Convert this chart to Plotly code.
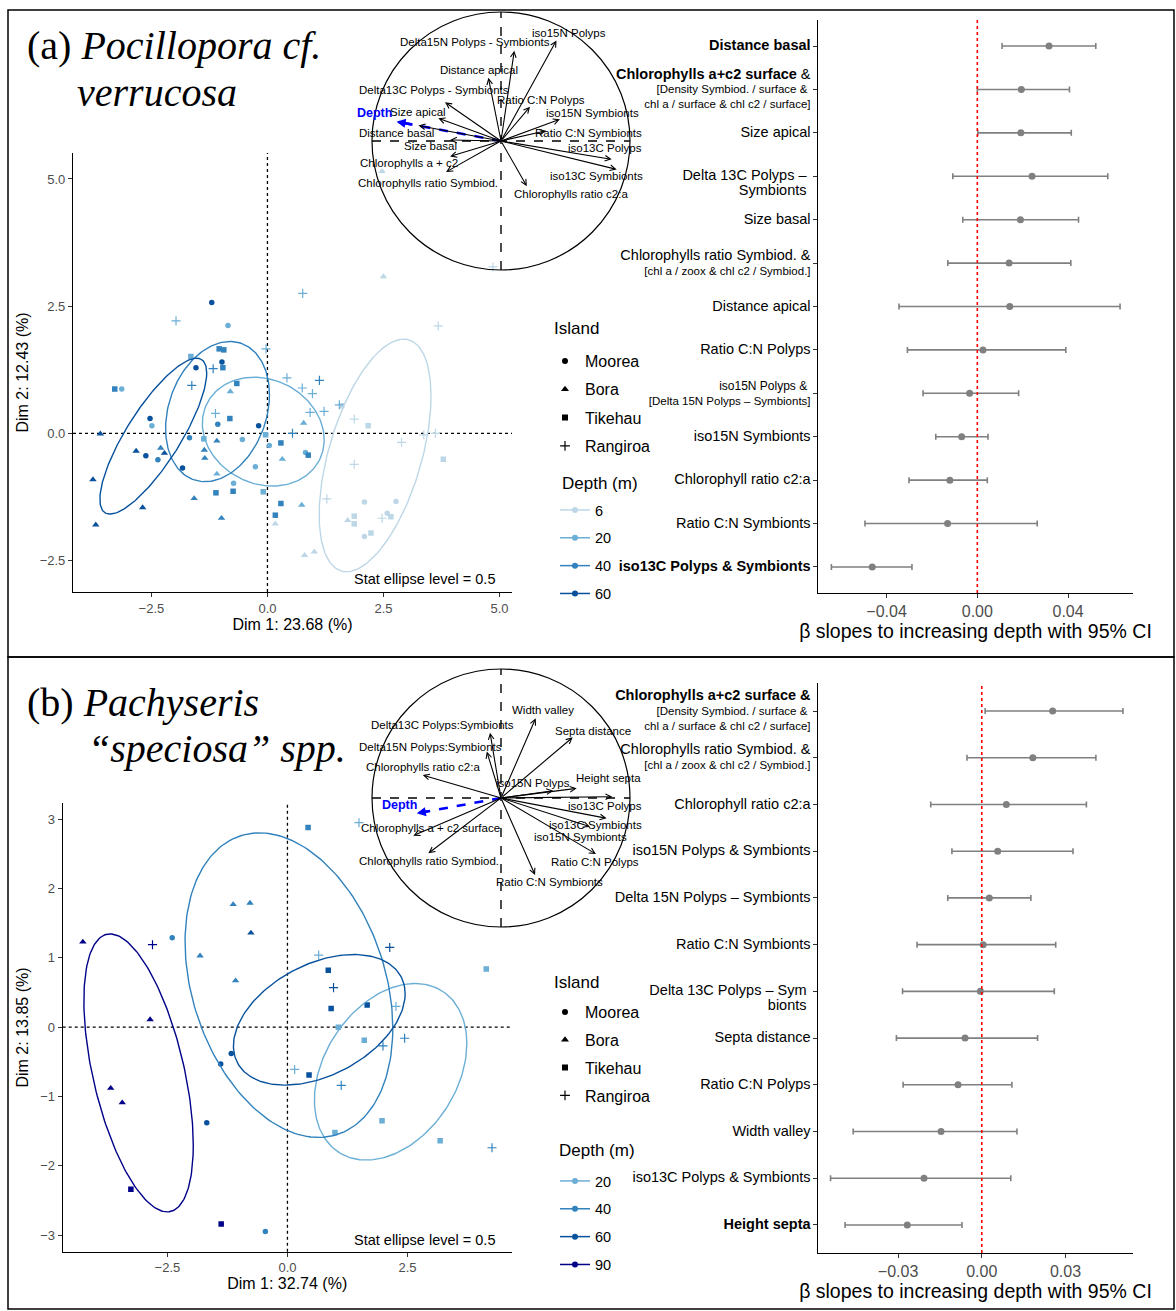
import numpy as np
import plotly.graph_objects as go

W, H = 1176, 1311
SANS = "Liberation Sans, Arial, sans-serif"
SERIF = "Liberation Serif, Times New Roman, serif"

# ------------------------------------------------------------------ DATA
islands = ["Moorea", "Bora", "Tikehau", "Rangiroa"]

# Panel (a) Pocillopora: PCA individuals (Dim1, Dim2, depth)
a_moorea_x = [-1.20, -0.85, -3.14, -1.54, -0.98, -2.53, -2.49, -1.07, -0.19, -2.62, -2.36, -1.68, -1.83, -0.54, 0.04, -0.26, -0.73, 0.82, 2.09, 2.77, 2.58, 2.09]
a_moorea_y = [2.57, 2.12, 0.87, 1.29, 1.40, 0.29, 0.15, 0.18, 0.15, -0.44, -0.52, -0.09, -0.68, -0.12, -0.24, -0.66, -0.98, -0.38, -1.35, -1.34, -1.57, -2.03]
a_moorea_d = [60, 20, 20, 60, 60, 60, 20, 40, 60, 60, 40, 40, 60, 20, 20, 20, 20, 20, 6, 6, 6, 6]
a_bora_x = [2.50, 2.47, -0.80, 0.78, -3.60, -2.83, -2.30, -2.22, -1.36, -1.35, -1.09, -1.09, 0.32, -3.76, -1.58, -2.69, -0.99, -3.70, 0.74, 0.17, 1.73, 0.80, 1.01]
a_bora_y = [3.08, 5.15, 0.82, 0.20, -0.01, -0.35, -0.29, -0.39, -0.33, -0.49, -0.15, -0.80, -0.51, -0.91, -1.28, -1.46, -1.67, -1.80, -1.41, -1.78, -1.71, -2.40, -2.33]
a_bora_d = [6, 6, 20, 20, 60, 60, 40, 60, 40, 40, 40, 20, 20, 60, 40, 60, 40, 60, 20, 6, 6, 6, 6]
a_tikehau_x = [-3.29, -1.65, -1.04, -0.94, -0.96, -0.66, -0.81, -1.37, -0.04, 0.29, 0.88, -1.11, -0.74, -0.09, 0.29, 0.17, 1.60, 2.17, 3.79, 1.87, 1.87, 2.66, 2.23]
a_tikehau_y = [0.87, 1.51, 1.66, 1.64, 1.29, 0.98, 0.29, -0.11, -0.03, -0.19, -0.43, -1.17, -1.14, -1.15, -1.38, -1.61, 0.54, 0.15, -0.51, -1.63, -1.78, -1.64, -1.96]
a_tikehau_d = [40, 20, 40, 40, 40, 40, 40, 20, 20, 40, 40, 40, 40, 20, 40, 40, 6, 6, 6, 6, 6, 6, 6]
a_rangiroa_x = [-1.97, 0.76, 3.68, 4.86, -0.03, -1.17, -1.63, 0.42, 1.12, 0.75, 0.97, -1.12, 0.92, 1.22, 0.54, 1.55, 1.87, 3.37, 3.62, 2.89, 1.87, 1.28, 2.47]
a_rangiroa_y = [2.21, 2.75, 2.11, 3.27, 1.66, 1.27, 0.94, 1.09, 1.04, 0.89, 0.78, 0.39, 0.41, 0.43, 0.00, 0.56, 0.28, -0.03, 0.00, -0.18, -0.61, -1.29, -1.67]
a_rangiroa_d = [20, 20, 6, 6, 20, 40, 40, 20, 40, 20, 20, 20, 20, 20, 40, 20, 6, 6, 6, 6, 6, 6, 6]

# stat ellipses (level 0.5) per depth: centre, half-extent x/y, correlation
a_depths = [6, 20, 40, 60]
a_ell_cx = [2.32, -0.09, -1.076, -2.46]
a_ell_cy = [-0.436, 0.033, 0.427, -0.056]
a_ell_hx = [1.205, 1.313, 1.119, 1.151]
a_ell_hy = [2.287, 1.07, 1.378, 1.532]
a_ell_r = [0.51, -0.15, 0.24, 0.81]

# Panel (a) variable loadings (correlation circle)
a_var_names = ["Delta15N Polyps - Symbionts", "iso15N Polyps", "Distance apical", "Delta13C Polyps - Symbionts",
               "Ratio C:N Polyps", "iso15N Symbionts", "Size apical", "Ratio C:N Symbionts", "iso13C Polyps",
               "iso13C Symbionts", "Chlorophylls ratio c2:a", "Distance basal", "Size basal",
               "Chlorophylls a + c2", "Chlorophylls ratio Symbiod."]
a_var_d1 = [0.103, 0.43, -0.098, -0.434, 0.225, 0.457, -0.486, 0.35, 0.858, 0.897, 0.20, -0.64, -0.395, -0.395, -0.426]
a_var_d2 = [0.70, 0.78, 0.49, 0.30, 0.266, 0.168, 0.176, 0.08, -0.142, -0.22, -0.35, 0.12, 0.008, -0.12, -0.24]
a_lab_d1 = [-0.20, 0.527, -0.171, -0.519, 0.31, 0.711, -0.643, 0.682, 0.806, 0.742, 0.54, -0.809, -0.55, -0.713, -0.566]
a_lab_d2 = [0.767, 0.837, 0.55, 0.395, 0.318, 0.215, 0.225, 0.06, -0.052, -0.271, -0.409, 0.06, -0.036, -0.173, -0.323]
a_depth_d1, a_depth_d2 = -0.81, 0.15
a_depth_lab = (-0.977, 0.219)

# Panel (a) slopes
a_terms = [
    "<b><span style='font-size:14.5px'>Distance basal</span></b>",
    "<b><span style='font-size:14.5px'>Chlorophylls a+c2 surface</span></b><span style='font-size:14.5px'> &</span><br>[Density Symbiod. / surface & <br>chl a / surface & chl c2 / surface]",
    "<span style='font-size:14.5px'>Size apical</span>",
    "\u00a0<br><span style='font-size:14.5px'>Delta 13C Polyps \u2013 </span><br><span style='font-size:14.5px'>Symbionts </span>",
    "<span style='font-size:14.5px'>Size basal</span>",
    "<span style='font-size:14.5px'>Chlorophylls ratio Symbiod. &</span><br>[chl a / zoox & chl c2 / Symbiod.]",
    "<span style='font-size:14.5px'>Distance apical</span>",
    "<span style='font-size:14.5px'>Ratio C:N Polyps</span>",
    "<span style='font-size:12px'>iso15N Polyps & </span><br>[Delta 15N Polyps \u2013 Symbionts]",
    "<span style='font-size:14.5px'>iso15N Symbionts</span>",
    "<span style='font-size:14.5px'>Chlorophyll ratio c2:a</span>",
    "<span style='font-size:14.5px'>Ratio C:N Symbionts</span>",
    "<b><span style='font-size:14.5px'>iso13C Polyps & Symbionts</span></b>",
]
a_beta = [0.0316, 0.0194, 0.0192, 0.0241, 0.0190, 0.0140, 0.0143, 0.0025, -0.0034, -0.0069, -0.0121, -0.0131, -0.0463]
a_lo = [0.0109, 0.0000, 0.0002, -0.0108, -0.0064, -0.0130, -0.0345, -0.0308, -0.0239, -0.0183, -0.0301, -0.0495, -0.0643]
a_hi = [0.0522, 0.0406, 0.0414, 0.0575, 0.0446, 0.0412, 0.0629, 0.0390, 0.0182, 0.0047, 0.0044, 0.0264, -0.0288]

# Panel (b) Pachyseris: PCA individuals
b_moorea_x = [-2.40, -1.17, -1.39, -1.68, -0.46]
b_moorea_y = [1.29, -0.38, -0.53, -1.38, -2.95]
b_moorea_d = [40, 60, 60, 60, 40]
b_bora_x = [-4.26, -2.86, -3.68, -3.44, -1.82, -1.13, -0.78, -0.76, -1.08]
b_bora_y = [1.23, 0.11, -0.88, -1.09, 1.03, 1.77, 1.79, 1.36, 0.67]
b_bora_d = [90, 90, 90, 90, 40, 40, 40, 60, 40]
b_tikehau_x = [0.43, 0.85, 0.91, 1.66, 0.45, 1.06, 1.60, 1.97, 0.99, 3.18, 4.14, -3.26, -1.38]
b_tikehau_y = [2.88, 0.82, 0.27, 0.32, -0.69, 0.00, -0.19, -1.35, -1.52, -1.64, 0.84, -2.34, -2.84]
b_tikehau_d = [40, 60, 60, 60, 60, 20, 20, 20, 20, 20, 20, 90, 90]
b_rangiroa_x = [-2.81, 1.49, 0.65, 2.13, 0.96, 2.26, 2.44, 1.99, 0.15, 1.12, 4.26]
b_rangiroa_y = [1.19, 2.95, 1.04, 1.15, 0.57, 0.30, -0.16, -0.27, -0.61, -0.84, -1.74]
b_rangiroa_d = [90, 20, 20, 60, 60, 20, 40, 40, 20, 40, 40]

b_depths = [20, 40, 60, 90]
b_ell_cx = [2.149, 0.031, 0.663, -3.10]
b_ell_cy = [-0.644, 0.606, 0.106, -0.66]
b_ell_hx = [1.587, 2.163, 1.788, 1.139]
b_ell_hy = [1.274, 2.197, 0.942, 2.005]
b_ell_r = [0.32, -0.284, 0.40, -0.52]

b_var_names = ["Width valley", "Septa distance", "Delta13C Polyps:Symbionts", "Delta15N Polyps:Symbionts",
               "Chlorophylls ratio c2:a", "iso15N Polyps", "Height septa", "iso13C Polyps", "iso13C Symbionts",
               "iso15N Symbionts", "Ratio C:N Polyps", "Ratio C:N Symbionts", "Chlorophylls a + c2 surface",
               "Chlorophylls ratio Symbiod."]
b_var_d1 = [0.269, 0.556, -0.085, -0.11, -0.607, 0.405, 0.587, 0.863, 0.819, 0.69, 0.736, 0.264, -0.68, -0.563]
b_var_d2 = [0.618, 0.47, 0.506, 0.36, 0.178, 0.057, 0.075, 0.01, -0.157, -0.222, -0.434, -0.597, -0.292, -0.429]
b_lab_d1 = [0.323, 0.716, -0.455, -0.55, -0.602, 0.246, 0.832, 0.809, 0.736, 0.62, 0.729, 0.374, -0.55, -0.556]
b_lab_d2 = [0.682, 0.522, 0.566, 0.393, 0.238, 0.114, 0.157, -0.062, -0.209, -0.30, -0.494, -0.649, -0.23, -0.486]
b_depth_d1, b_depth_d2 = -0.653, -0.119
b_depth_lab = (-0.783, -0.054)

b_terms = [
    "<b><span style='font-size:14.5px'>Chlorophylls a+c2 surface &</span></b><br>[Density Symbiod. / surface & <br>chl a / surface & chl c2 / surface]",
    "<span style='font-size:14.5px'>Chlorophylls ratio Symbiod. &</span><br>[chl a / zoox & chl c2 / Symbiod.]",
    "<span style='font-size:14.5px'>Chlorophyll ratio c2:a</span>",
    "<span style='font-size:14.5px'>iso15N Polyps & Symbionts</span>",
    "<span style='font-size:14.5px'>Delta 15N Polyps \u2013 Symbionts</span>",
    "<span style='font-size:14.5px'>Ratio C:N Symbionts</span>",
    "\u00a0<br><span style='font-size:14.5px'>Delta 13C Polyps \u2013 Sym </span><br><span style='font-size:14.5px'>bionts </span>",
    "<span style='font-size:14.5px'>Septa distance</span>",
    "<span style='font-size:14.5px'>Ratio C:N Polyps</span>",
    "<span style='font-size:14.5px'>Width valley</span>",
    "<span style='font-size:14.5px'>iso13C Polyps & Symbionts</span>",
    "<b><span style='font-size:14.5px'>Height septa</span></b>",
]
b_beta = [0.0254, 0.0183, 0.0088, 0.0057, 0.0027, 0.0005, -0.0005, -0.0060, -0.0085, -0.0146, -0.0207, -0.0267]
b_lo = [0.0012, -0.0053, -0.0183, -0.0107, -0.0122, -0.0232, -0.0284, -0.0306, -0.0282, -0.0461, -0.0542, -0.0490]
b_hi = [0.0506, 0.0409, 0.0375, 0.0327, 0.0176, 0.0265, 0.0260, 0.0200, 0.0108, 0.0126, 0.0104, -0.0071]

# ------------------------------------------------------------------ STYLE
depth_colors = {6: "#BDD7E7", 20: "#6BAED6", 40: "#3182BD", 60: "#08519C", 90: "#000088"}
symbols = {"Moorea": "circle", "Bora": "triangle-up", "Tikehau": "square", "Rangiroa": "cross-thin"}
msize = {"Moorea": 5.5, "Bora": 6.5, "Tikehau": 5.5, "Rangiroa": 6.5}


def pxx(p):
    return p / W


def pxy(p):
    return 1 - p / H


fig = go.Figure()
annotations = []
shapes = []


def add_individuals(xs, ys, ds, island, xa, ya):
    for d in sorted(set(ds)):
        sx = [x for x, dd in zip(xs, ds) if dd == d]
        sy = [y for y, dd in zip(ys, ds) if dd == d]
        c = depth_colors[d]
        fig.add_trace(go.Scatter(
            x=sx, y=sy, mode="markers", xaxis=xa, yaxis=ya, showlegend=False, hoverinfo="skip",
            marker=dict(symbol=symbols[island], size=msize[island], color=c,
                        line=dict(color=c, width=1.2 if island == "Rangiroa" else 0))))


def add_ellipses(depths, cx, cy, hx, hy, rr, xa, ya):
    t = np.linspace(0, 2 * np.pi, 200)
    for d, a, b, sx, sy, r in zip(depths, cx, cy, hx, hy, rr):
        phi = np.arccos(r)
        fig.add_trace(go.Scatter(
            x=a + sx * np.cos(t), y=b + sy * np.cos(t - phi), mode="lines", xaxis=xa, yaxis=ya,
            showlegend=False, hoverinfo="skip", line=dict(color=depth_colors[d], width=1.4)))


def add_circle(names, d1, d2, l1, l2, dep, deplab, xa, ya):
    shapes.append(dict(type="circle", xref=xa, yref=ya, x0=-1, x1=1, y0=-1, y1=1,
                       line=dict(color="black", width=1.2), layer="above"))
    shapes.append(dict(type="line", xref=xa, yref=ya, x0=-1, x1=1, y0=0, y1=0,
                       line=dict(color="black", width=1.4, dash="dash"), layer="above"))
    shapes.append(dict(type="line", xref=xa, yref=ya, x0=0, x1=0, y0=-1, y1=1,
                       line=dict(color="black", width=1.4, dash="dash"), layer="above"))
    for n, u, v, lu, lv in zip(names, d1, d2, l1, l2):
        annotations.append(dict(x=u, y=v, ax=0, ay=0, xref=xa, yref=ya, axref=xa, ayref=ya,
                                showarrow=True, arrowhead=5, arrowsize=1, arrowwidth=1.1,
                                arrowcolor="black", text="", standoff=0))
        annotations.append(dict(x=lu, y=lv, xref=xa, yref=ya, text=n, showarrow=False,
                                font=dict(family=SANS, size=11.5, color="black")))
    fig.add_trace(go.Scatter(x=[0, dep[0] * 0.93], y=[0, dep[1] * 0.93], mode="lines", xaxis=xa, yaxis=ya,
                             showlegend=False, hoverinfo="skip",
                             line=dict(color="blue", width=2.6, dash="dash")))
    annotations.append(dict(x=dep[0], y=dep[1], ax=dep[0] * 0.85, ay=dep[1] * 0.85, xref=xa, yref=ya,
                            axref=xa, ayref=ya, showarrow=True, arrowhead=2, arrowsize=0.7,
                            arrowwidth=2.6, arrowcolor="blue", text="", standoff=0))
    annotations.append(dict(x=deplab[0], y=deplab[1], xref=xa, yref=ya, text="<b>Depth</b>",
                            showarrow=False, font=dict(family=SANS, size=12.5, color="blue")))


def add_forest(terms, beta, lo, hi, xa, ya):
    rows = list(range(1, len(terms) + 1))
    fig.add_trace(go.Scatter(
        x=beta, y=rows, mode="markers", xaxis=xa, yaxis=ya, showlegend=False, hoverinfo="skip",
        marker=dict(color="#808080", size=7),
        error_x=dict(type="data", symmetric=False, array=[h - b for h, b in zip(hi, beta)],
                     arrayminus=[b - l for b, l in zip(beta, lo)], color="#808080", thickness=1.6, width=3)))
    shapes.append(dict(type="line", xref=xa, yref=ya + " domain", x0=0, x1=0, y0=0, y1=1,
                       line=dict(color="red", width=1.6, dash="dot"), layer="above"))


# ---- panel (a)
for isl, xs, ys, ds in zip(islands, [a_moorea_x, a_bora_x, a_tikehau_x, a_rangiroa_x],
                           [a_moorea_y, a_bora_y, a_tikehau_y, a_rangiroa_y],
                           [a_moorea_d, a_bora_d, a_tikehau_d, a_rangiroa_d]):
    add_individuals(xs, ys, ds, isl, "x", "y")
add_ellipses(a_depths, a_ell_cx, a_ell_cy, a_ell_hx, a_ell_hy, a_ell_r, "x", "y")
add_circle(a_var_names, a_var_d1, a_var_d2, a_lab_d1, a_lab_d2, (a_depth_d1, a_depth_d2), a_depth_lab, "x2", "y2")
add_forest(a_terms, a_beta, a_lo, a_hi, "x3", "y3")

# ---- panel (b)
for isl, xs, ys, ds in zip(islands, [b_moorea_x, b_bora_x, b_tikehau_x, b_rangiroa_x],
                           [b_moorea_y, b_bora_y, b_tikehau_y, b_rangiroa_y],
                           [b_moorea_d, b_bora_d, b_tikehau_d, b_rangiroa_d]):
    add_individuals(xs, ys, ds, isl, "x4", "y4")
add_ellipses(b_depths, b_ell_cx, b_ell_cy, b_ell_hx, b_ell_hy, b_ell_r, "x4", "y4")
add_circle(b_var_names, b_var_d1, b_var_d2, b_lab_d1, b_lab_d2, (b_depth_d1, b_depth_d2), b_depth_lab, "x5", "y5")
add_forest(b_terms, b_beta, b_lo, b_hi, "x6", "y6")

# zero reference lines in the PCA panels
for xa, ya in [("x", "y"), ("x4", "y4")]:
    shapes.append(dict(type="line", xref=xa, yref=ya + " domain", x0=0, x1=0, y0=0, y1=1,
                       line=dict(color="black", width=1.3, dash="dot"), layer="below"))
    shapes.append(dict(type="line", xref=xa + " domain", yref=ya, x0=0, x1=1, y0=0, y1=0,
                       line=dict(color="black", width=1.3, dash="dot"), layer="below"))

# ---- legends (entries via the library legend, titles as text)
legend_sets = [("legend", "legend2", a_depths), ("legend3", "legend4", b_depths)]
for leg_isl, leg_dep, depths in legend_sets:
    for isl in islands:
        fig.add_trace(go.Scatter(
            x=[None], y=[None], mode="markers", name=isl, legend=leg_isl, legendgroup=f"{leg_isl}{isl}",
            marker=dict(symbol=symbols[isl], size=msize[isl] + 0.5, color="black",
                        line=dict(color="black", width=1.2 if isl == "Rangiroa" else 0))))
    for d in depths:
        fig.add_trace(go.Scatter(
            x=[None], y=[None], mode="lines+markers", name=str(d), legend=leg_dep,
            legendgroup=f"{leg_dep}{d}", line=dict(color=depth_colors[d], width=1.5),
            marker=dict(symbol="circle", size=6, color=depth_colors[d])))


def legend_cfg(x, ytop, size, gap):
    return dict(x=pxx(x), y=pxy(ytop), xanchor="left", yanchor="top", bgcolor="rgba(0,0,0,0)",
                font=dict(family=SANS, size=size, color="black"), tracegroupgap=gap,
                itemsizing="trace", itemwidth=30)


# ---- axes
def scat_axes(xdom, ydom, xr, yr, xt, yt, xdt, ydt, xfmt, yfmt):
    ax = dict(domain=xdom, range=xr, showgrid=False, zeroline=False, showline=True, linecolor="black",
              linewidth=1.2, ticks="outside", ticklen=4, tickcolor="#333333", dtick=xdt, tick0=0,
              tickformat=xfmt, tickfont=dict(family=SANS, size=13, color="#4D4D4D"),
              title=dict(text=xt, font=dict(family=SANS, size=16, color="black"), standoff=1))
    ay = dict(domain=ydom, range=yr, showgrid=False, zeroline=False, showline=True, linecolor="black",
              linewidth=1.2, ticks="outside", ticklen=4, tickcolor="#333333", dtick=ydt, tick0=0,
              tickformat=yfmt, tickfont=dict(family=SANS, size=13, color="#4D4D4D"),
              title=dict(text=yt, font=dict(family=SANS, size=16, color="black"), standoff=7))
    return ax, ay


def circ_axes(cx, cy, r, xr, yr):
    ax = dict(domain=[pxx(cx + r * xr[0]), pxx(cx + r * xr[1])], range=xr, visible=False)
    ay = dict(domain=[pxy(cy - r * yr[0]), pxy(cy - r * yr[1])], range=yr, visible=False)
    return ax, ay


def forest_axes(xdom, ydom, xr, n, terms, tv):
    ax = dict(domain=xdom, range=xr, showgrid=False, zeroline=False, showline=True, linecolor="black",
              linewidth=1.3, ticks="outside", ticklen=4, tickcolor="#333333", tickvals=tv,
              tickformat=".2f", tickfont=dict(family=SANS, size=16, color="#4D4D4D"),
              title=dict(text="\u03b2 slopes to increasing depth with 95% CI",
                         font=dict(family=SANS, size=19.5, color="black"), standoff=4))
    ay = dict(domain=ydom, range=[n + 0.6, 0.4], showgrid=False, zeroline=False, showline=True,
              linecolor="black", linewidth=1.3, ticks="outside", ticklen=4, tickcolor="#333333",
              tickvals=list(range(1, n + 1)), ticktext=terms,
              tickfont=dict(family=SANS, size=11.5, color="black"))
    return ax, ay


x1, y1 = scat_axes([pxx(73), pxx(512)], [pxy(592), pxy(153)], [-4.19, 5.27], [-3.12, 5.51],
                   "Dim 1: 23.68 (%)", "Dim 2: 12.43 (%)", 2.5, 2.5, ".1f", ".1f")
x2, y2 = circ_axes(501, 141, 129, [-1.3, 1.3], [-1.2, 1.07])
x3, y3 = forest_axes([pxx(818), pxx(1133)], [pxy(593), pxy(20)], [-0.0702, 0.0686], len(a_terms), a_terms,
                     [-0.04, 0, 0.04])
x4, y4 = scat_axes([pxx(62.7), pxx(511.7)], [pxy(1251.7), pxy(803.3)], [-4.68, 4.67], [-3.24, 3.23],
                   "Dim 1: 32.74 (%)", "Dim 2: 13.85 (%)", 2.5, 1, ".1f", "d")
x5, y5 = circ_axes(501, 798, 129, [-1.3, 1.3], [-1.2, 1.2])
x6, y6 = forest_axes([pxx(818), pxx(1133)], [pxy(1253), pxy(683)], [-0.0587, 0.0542], len(b_terms), b_terms,
                     [-0.03, 0, 0.03])

x2["anchor"], y2["anchor"] = "y2", "x2"
x3["anchor"], y3["anchor"] = "y3", "x3"
x4["anchor"], y4["anchor"] = "y4", "x4"
x5["anchor"], y5["anchor"] = "y5", "x5"
x6["anchor"], y6["anchor"] = "y6", "x6"

# ---- titles / texts
def ptext(x, y, text, size, family=SANS, xanchor="left"):
    return dict(x=pxx(x), y=pxy(y), xref="paper", yref="paper", xanchor=xanchor, yanchor="middle",
                showarrow=False, text=text, font=dict(family=family, size=size, color="black"))


annotations += [
    ptext(25, 45, "(a) <i>Pocillopora cf.</i>", 40, SERIF),
    ptext(75, 92, "<i>verrucosa</i>", 40, SERIF),
    ptext(25, 702, "(b) <i>Pachyseris</i>", 40, SERIF),
    ptext(86, 748, "<i>\u201cspeciosa\u201d spp.</i>", 40, SERIF),
    ptext(497, 579, "Stat ellipse level = 0.5", 14.5, xanchor="right"),
    ptext(497, 1240, "Stat ellipse level = 0.5", 14.5, xanchor="right"),
    ptext(552, 329, "Island", 17),
    ptext(560, 483, "Depth (m)", 17),
    ptext(552, 982, "Island", 17),
    ptext(557, 1150, "Depth (m)", 17),
]

# panel borders
shapes += [
    dict(type="rect", xref="paper", yref="paper", x0=pxx(8), x1=pxx(1174), y0=pxy(657), y1=pxy(10),
         line=dict(color="black", width=1.5), layer="above"),
    dict(type="rect", xref="paper", yref="paper", x0=pxx(8), x1=pxx(1174), y0=pxy(1309), y1=pxy(657),
         line=dict(color="black", width=1.5), layer="above"),
]

fig.update_layout(
    width=W, height=H, margin=dict(l=0, r=0, t=0, b=0), paper_bgcolor="white", plot_bgcolor="rgba(0,0,0,0)",
    font=dict(family=SANS, color="black"),
    xaxis=x1, yaxis=y1, xaxis2=x2, yaxis2=y2, xaxis3=x3, yaxis3=y3,
    xaxis4=x4, yaxis4=y4, xaxis5=x5, yaxis5=y5, xaxis6=x6, yaxis6=y6,
    legend=legend_cfg(545, 344, 16, 4.5),
    legend2=legend_cfg(555, 494, 14.5, 6),
    legend3=legend_cfg(545, 995, 16, 4),
    legend4=legend_cfg(555, 1165, 14.5, 6),
    annotations=annotations, shapes=shapes, showlegend=True,
)

fig.write_html("out.html", config={"displayModeBar": False},
               post_script="document.body.style.margin='0';document.body.style.overflow='hidden';")
